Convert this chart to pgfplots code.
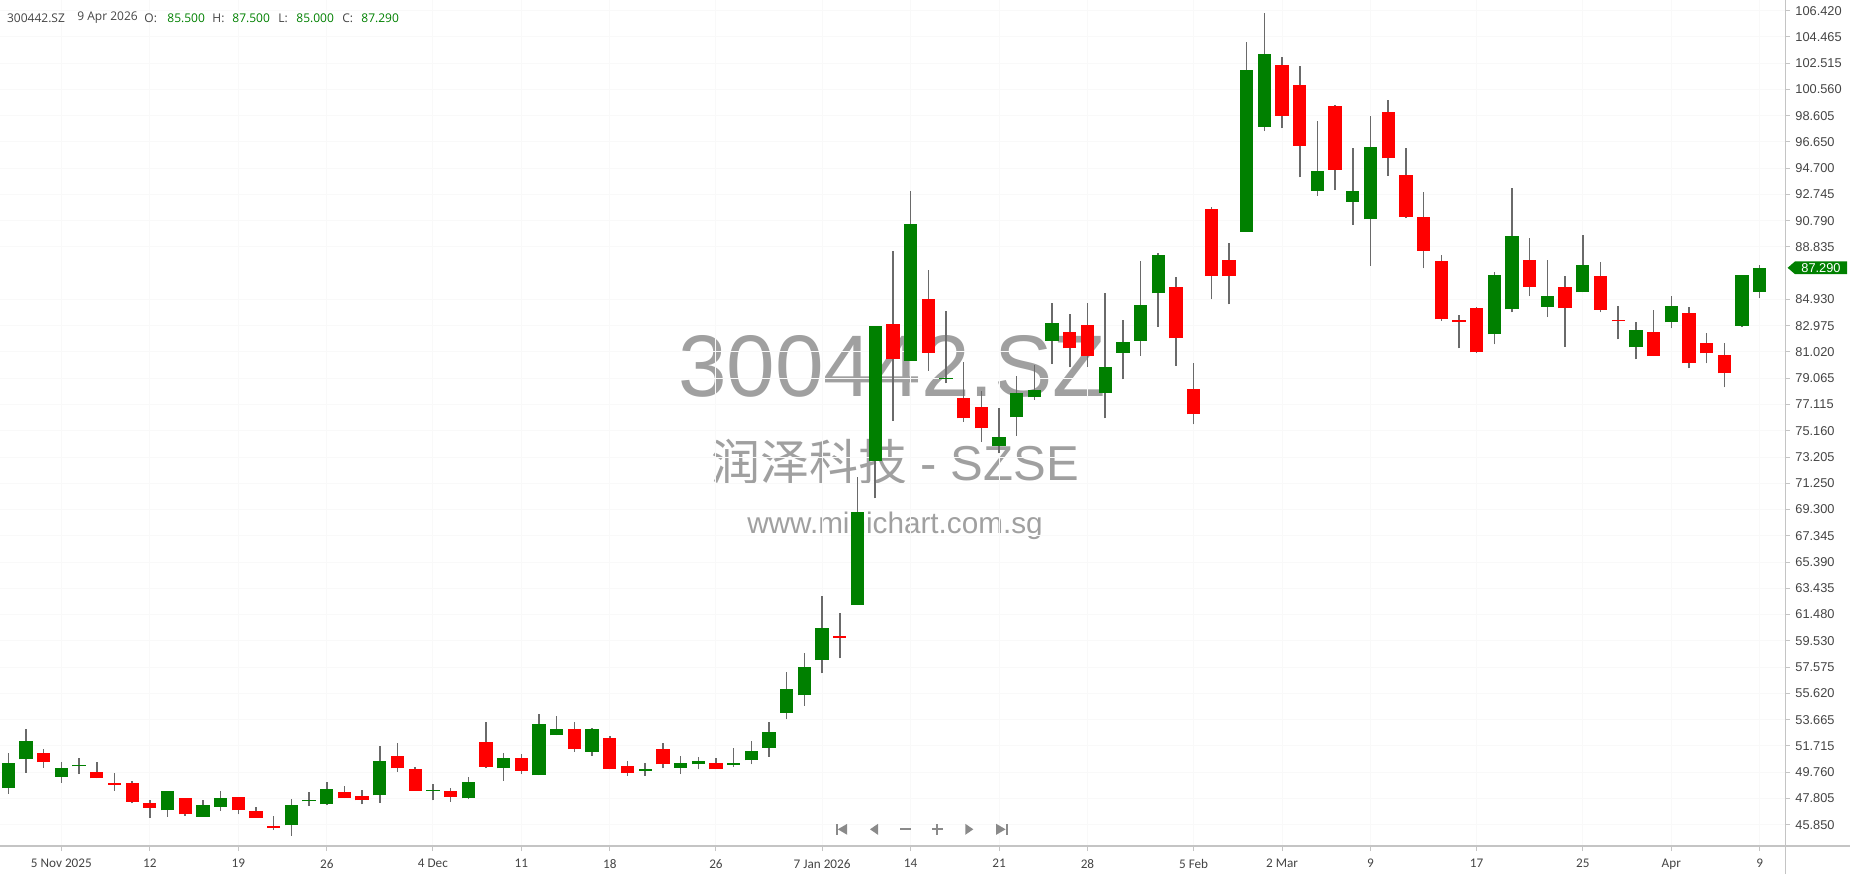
\documentclass[border=0pt]{standalone}
\usepackage{fontspec}
\setmainfont{Liberation Sans}
\newfontfamily\carlito{Carlito}
\newfontfamily\opensans{Open Sans}
\newfontfamily\cjk{Noto Sans CJK SC}
\usepackage{pgfplots}
\usepackage{pgfplotstable}
\pgfplotsset{compat=1.18}

\definecolor{upgreen}{HTML}{008000}
\definecolor{downred}{HTML}{FF0000}
\definecolor{wick}{HTML}{6A6A6A}
\definecolor{wm}{HTML}{A0A0A0}
\definecolor{axgray}{HTML}{C4C4C4}
\definecolor{gridc}{HTML}{F9F9F9}
\definecolor{lblgray}{HTML}{444444}
\definecolor{navgray}{HTML}{8A8A8A}

% candles: index, open, high, low, close
\pgfplotstableread{
i o h l c
0 48.56 51.16 48.13 50.42
1 50.71 52.95 49.72 52.10
3 49.42 50.49 48.95 50.04
4 50.18 50.79 49.60 50.28
9 46.92 48.38 46.42 48.38
11 46.42 47.66 46.42 47.34
12 47.19 48.38 46.89 47.81
16 45.80 47.74 45.03 47.34
17 47.58 48.28 47.27 47.68
18 47.36 49.03 47.31 48.48
21 48.03 51.73 47.49 50.61
24 48.36 48.85 47.66 48.46
26 47.81 49.40 47.74 49.03
28 50.04 51.16 49.13 50.79
30 49.52 54.10 49.52 53.32
31 52.50 53.90 52.50 52.95
33 51.26 53.02 50.99 52.95
36 49.87 50.42 49.50 50.02
38 50.07 50.99 49.60 50.42
39 50.34 50.86 49.97 50.61
41 50.29 51.53 50.17 50.44
42 50.64 52.10 50.34 51.36
43 51.58 53.49 50.91 52.75
44 54.18 57.18 53.69 55.92
45 55.47 58.60 54.70 57.56
46 58.10 62.89 57.11 60.46
48 62.19 71.69 62.19 69.09
49 72.93 82.95 70.13 82.95
51 80.37 92.97 80.37 90.57
53 78.98 84.04 78.69 79.10
56 74.02 76.83 73.48 74.67
57 76.16 79.23 74.79 77.94
58 77.65 80.05 77.45 78.19
59 81.86 84.64 80.12 83.15
62 78.00 85.38 76.08 79.88
63 80.97 83.40 78.98 81.74
64 81.86 87.79 80.75 84.54
65 85.38 88.36 82.88 88.26
70 89.95 104.06 89.95 102.00
71 97.76 106.22 97.46 103.22
74 93.00 98.21 92.63 94.46
76 92.18 96.17 90.49 92.97
77 90.89 98.58 87.42 96.25
84 82.33 86.99 81.59 86.75
85 84.19 93.19 83.97 89.62
87 84.37 87.89 83.62 85.16
89 85.46 89.75 85.46 87.49
92 81.37 83.23 80.47 82.65
94 83.23 85.18 82.78 84.44
98 82.98 86.75 82.90 86.75
99 85.50 87.50 85.00 87.29
}\up

\pgfplotstableread{
i o h l c
2 51.16 51.46 50.07 50.51
5 49.77 50.52 49.30 49.30
6 48.95 49.67 48.38 48.80
7 48.93 49.12 47.44 47.56
8 47.44 47.66 46.35 47.09
10 47.81 47.81 46.52 46.62
13 47.91 47.91 46.62 46.92
14 46.89 47.14 46.35 46.35
15 45.75 46.52 45.48 45.60
19 48.28 48.75 47.83 47.83
20 48.01 48.46 47.36 47.66
22 50.98 51.90 49.80 50.04
23 49.97 50.12 48.38 48.38
25 48.38 48.55 47.56 47.91
27 52.00 53.49 50.04 50.14
29 50.79 51.09 49.60 49.87
32 52.95 53.49 51.28 51.46
34 52.28 52.47 49.97 50.02
35 50.24 50.61 49.50 49.70
37 51.46 51.90 50.04 50.34
40 50.42 50.79 49.97 49.97
47 59.89 61.57 58.23 59.76
50 83.13 88.53 75.91 80.47
52 84.99 87.14 79.63 80.97
54 77.62 80.30 75.83 76.08
55 76.90 78.14 74.35 75.34
60 82.48 83.82 79.88 81.29
61 83.05 84.64 79.93 80.75
66 85.83 86.57 80.00 82.04
67 78.24 80.18 75.64 76.38
68 91.68 91.78 84.94 86.67
69 87.89 89.10 84.57 86.67
72 102.37 102.94 97.66 98.58
73 100.88 102.30 94.01 96.35
75 99.32 99.40 93.07 94.58
78 98.85 99.77 94.14 95.43
79 94.21 96.17 90.96 91.06
80 91.04 92.90 87.24 88.56
81 87.79 88.24 83.35 83.45
82 83.40 83.80 81.29 83.28
83 84.27 84.34 80.92 80.99
86 87.89 89.47 85.18 85.85
88 85.83 86.67 81.39 84.27
90 86.65 87.69 83.97 84.17
91 83.42 84.44 81.96 83.30
93 82.48 84.17 80.72 80.72
95 83.90 84.37 79.80 80.17
96 81.66 82.40 80.17 80.92
97 80.82 81.66 78.39 79.43
}\down

\begin{document}
\begin{tikzpicture}
% watermark behind everything
\node[anchor=base, inner sep=0pt, text=wm, font=\fontsize{43.7}{44}\selectfont] at (446pt,224.7pt) {300442.SZ};
\node[anchor=base, inner sep=0pt, text=wm, font=\fontsize{24.5}{25}\selectfont] at (447.5pt,183pt) {{\cjk 润泽科技} - SZSE};
\node[anchor=base, inner sep=0pt, text=wm, font=\fontsize{14.85}{15}\selectfont] at (447.5pt,156.5pt) {www.minichart.com.sg};

\begin{axis}[
  at={(0pt,0pt)}, anchor=south west,
  scale only axis, width=892.5pt, height=423pt,
  xmin=-0.47, xmax=100.43, ymin=44.26, ymax=107.21,
  axis line style={draw=none},
  xtick={3,8,13,18,24,29,34,40,46,51,56,61,67,72,77,83,89,94,99},
  xticklabels={5 Nov 2025,12,19,26,4 Dec,11,18,26,7 Jan 2026,14,21,28,5 Feb,2 Mar,9,17,25,Apr,9},
  ytick={45.85,47.805,49.76,51.715,53.665,55.62,57.575,59.53,61.48,63.435,65.39,67.345,69.3,71.25,73.205,75.16,77.115,79.065,81.02,82.975,84.93,88.835,90.79,92.745,94.7,96.65,98.605,100.56,102.515,104.465,106.42},
  yticklabels={45.850,47.805,49.760,51.715,53.665,55.620,57.575,59.530,61.480,63.435,65.390,67.345,69.300,71.250,73.205,75.160,77.115,79.065,81.020,82.975,84.930,88.835,90.790,92.745,94.700,96.650,98.605,100.560,102.515,104.465,106.420},
  xtick pos=bottom, ytick pos=right, yticklabel pos=right,
  tick align=outside, major tick length=2.5pt,
  tick style={draw=axgray, line width=0.5pt},
  grid=major, major grid style={draw=gridc, line width=0.5pt},
  /pgf/number format/assume math mode=true,
  xticklabel style={font=\carlito\fontsize{6.6}{7}\selectfont, text=lblgray, inner sep=0pt, anchor=north, yshift=-4pt},
  yticklabel style={font=\fontsize{6.4}{7}\selectfont, text=lblgray, inner sep=0pt, anchor=west, xshift=2.5pt},
]
% wicks
\addplot[forget plot, draw=none, mark=none,
  error bars/.cd, y dir=plus, y explicit, error mark=none,
  error bar style={draw=wick, line width=0.75pt}]
  table[x=i, y=l, y error expr=\thisrow{h}-\thisrow{l}] {\up};
\addplot[forget plot, draw=none, mark=none,
  error bars/.cd, y dir=plus, y explicit, error mark=none,
  error bar style={draw=wick, line width=0.75pt}]
  table[x=i, y=l, y error expr=\thisrow{h}-\thisrow{l}] {\down};
% bodies
\addplot[forget plot, draw=none, mark=none,
  error bars/.cd, y dir=plus, y explicit, error mark=none,
  error bar style={draw=upgreen, line width=6.65pt}]
  table[x=i, y=o, y error expr=\thisrow{c}-\thisrow{o}] {\up};
\addplot[forget plot, draw=none, mark=none,
  error bars/.cd, y dir=plus, y explicit, error mark=none,
  error bar style={draw=downred, line width=6.65pt}]
  table[x=i, y=c, y error expr=\thisrow{o}-\thisrow{c}] {\down};
\end{axis}

% axis lines
\draw[axgray, line width=0.6pt] (0pt,0pt) -- (925pt,0pt);
\draw[axgray, line width=0.6pt] (892.75pt,-14pt) -- (892.75pt,423pt);

% last price tag
\fill[upgreen] (893.8pt,289.1pt) -- (897.5pt,292.3pt) -- (923.5pt,292.3pt) -- (923.5pt,285.9pt) -- (897.5pt,285.9pt) -- cycle;
\node[inner sep=0pt, text=white, font=\fontsize{6.4}{7}\selectfont] at (910.5pt,289.1pt) {87.290};

% header line
\begin{scope}[every node/.style={anchor=west, inner sep=0pt, font=\opensans\fontsize{6}{7}\selectfont}]
\node[text=lblgray] at (3.35pt,414pt) {300442.SZ};
\node[text=lblgray] at (38.5pt,414pt) {9 Apr 2026};
\node[text=lblgray] at (72pt,414pt) {O:};
\node[text=upgreen] at (83.5pt,414pt) {85.500};
\node[text=lblgray] at (106pt,414pt) {H:};
\node[text=upgreen] at (116pt,414pt) {87.500};
\node[text=lblgray] at (139pt,414pt) {L:};
\node[text=upgreen] at (148pt,414pt) {85.000};
\node[text=lblgray] at (171pt,414pt) {C:};
\node[text=upgreen] at (180.5pt,414pt) {87.290};
\end{scope}

% navigation buttons
\fill[navgray] (417.9pt,5.6pt) rectangle (418.9pt,11.1pt);
\fill[navgray] (418.9pt,8.35pt) -- (423.6pt,11.1pt) -- (423.6pt,5.6pt) -- cycle;
\fill[navgray] (435pt,8.35pt) -- (439pt,11.1pt) -- (439pt,5.6pt) -- cycle;
\fill[navgray] (450.1pt,7.85pt) rectangle (455.6pt,8.85pt);
\fill[navgray] (465.9pt,7.85pt) rectangle (471.4pt,8.85pt);
\fill[navgray] (468.15pt,5.6pt) rectangle (469.15pt,11.1pt);
\fill[navgray] (486.65pt,8.35pt) -- (482.65pt,11.1pt) -- (482.65pt,5.6pt) -- cycle;
\fill[navgray] (502.8pt,8.35pt) -- (498.1pt,11.1pt) -- (498.1pt,5.6pt) -- cycle;
\fill[navgray] (502.8pt,5.6pt) rectangle (503.8pt,11.1pt);

\pgfresetboundingbox
\path[use as bounding box] (0pt,-14pt) rectangle (925pt,423pt);
\end{tikzpicture}
\end{document}
